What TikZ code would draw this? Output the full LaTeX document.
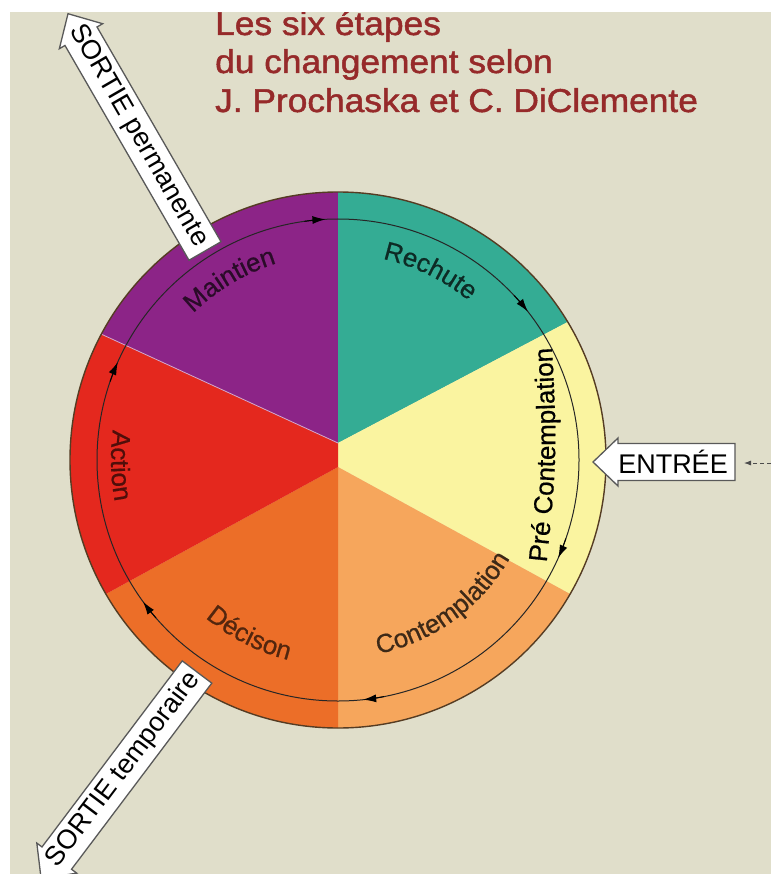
\documentclass[tikz,border=0pt]{standalone}
\usepackage{fontspec}
\setmainfont{Liberation Sans}
\newfontfamily\titlefam[FakeBold=1.4]{Liberation Sans}
\newfontfamily\labelfam[FakeBold=0.6]{Liberation Sans}
\usetikzlibrary{decorations.text,arrows.meta,calc}
\definecolor{bg}{RGB}{224,222,202}
\definecolor{cpurple}{RGB}{140,36,135}
\definecolor{cteal}{RGB}{52,172,148}
\definecolor{cyellow}{RGB}{250,244,160}
\definecolor{clorange}{RGB}{246,166,92}
\definecolor{corange}{RGB}{236,110,40}
\definecolor{cred}{RGB}{228,40,30}
\definecolor{ctitle}{RGB}{150,42,42}
\definecolor{crim}{RGB}{85,60,35}
\newcommand\wheelfont{\labelfam\fontsize{26}{26}\selectfont}
\newcommand\arrowfont{\fontsize{27}{27}\selectfont}
\newcommand\titlefont{\titlefam\fontsize{33}{33}\selectfont}
\tikzset{
  blockarrow/.style={fill=white,draw=black!65,line width=1.3pt,line join=miter},
  ringtip/.style={line width=1pt,-{Latex[length=13pt,width=8pt]}},
  titleline/.style={anchor=base west,text=ctitle,font=\titlefont,inner sep=0pt},
}
\begin{document}
\begin{tikzpicture}[x=1pt,y=1pt]
\useasboundingbox (0,0) rectangle (771,-874);
\clip (0,0) rectangle (771,-874);
\fill[white] (0,0) rectangle (771,-874);
\fill[bg] (10,-12) rectangle (771,-874);

\coordinate (C) at (338,-460);
\coordinate (J1) at (338,-443);
\coordinate (J2) at (338,-467);

% sectors
\fill[cpurple] (J1) -- ($(C)+(90:268)$) arc[start angle=90,end angle=152,radius=268] -- cycle;
\fill[cteal] (J1) -- ($(C)+(31:268)$) arc[start angle=31,end angle=90,radius=268] -- cycle;
\fill[cyellow] (J1) -- ($(C)+(31:268)$) arc[start angle=31,end angle=-30,radius=268] -- (J2) -- cycle;
\fill[clorange] (J2) -- ($(C)+(-30:268)$) arc[start angle=-30,end angle=-90,radius=268] -- cycle;
\fill[corange] (J2) -- ($(C)+(270:268)$) arc[start angle=270,end angle=210,radius=268] -- cycle;
\fill[cred] (J2) -- ($(C)+(210:268)$) arc[start angle=210,end angle=152,radius=268] -- (J1) -- cycle;
\draw[cpurple!40!white,line width=0.8pt] (J1) -- ($(C)+(152:268)$);

% rim and ring
\draw[crim,line width=1.4pt] (C) circle[radius=268];
\draw[black!85,line width=1pt] (C) circle[radius=241];
\foreach \a in {93,38,-24,-84,216,156}{
  \draw[ringtip] ($(C)+(\a+5:241)$) arc[start angle=\a+5,end angle=\a,radius=241];
}

% labels
\path[decorate,decoration={text along path,text align=center,text color=cteal!25!black,
  text={|\wheelfont|Rechute}}]
  ($(C)+(100:206)$) arc[start angle=100,end angle=28,radius=206];
\path[decorate,decoration={text along path,text align=center,text color=cpurple!30!black,
  text={|\wheelfont|Maintien}}]
  ($(C)+(160:206)$) arc[start angle=160,end angle=82,radius=206];
\path[decorate,decoration={text along path,text align=center,text color=cred!35!black,
  text={|\wheelfont|Action}}]
  ($(C)+(150:227)$) arc[start angle=150,end angle=213,radius=227];
\path[decorate,decoration={text along path,text align=center,text color=corange!35!black,
  text={|\wheelfont|Décison}}]
  ($(C)+(210:206)$) arc[start angle=210,end angle=276,radius=206];
\path[decorate,decoration={text along path,text align=center,text color=clorange!25!black,
  text={|\wheelfont|Contemplation}}]
  ($(C)+(-103:198)$) arc[start angle=-103,end angle=-5,radius=198];
\coordinate (pc0) at (543,-597);
\coordinate (pcc) at (558,-455);
\coordinate (pc1) at (550,-313);
\path[decorate,decoration={text along path,text align=center,text color=black,
  text={|\wheelfont|Pré Contemplation}}]
  (pc0) .. controls (pcc) .. (pc1);

% block arrows
\begin{scope}[shift={(205,-251)},rotate=120]
  \draw[blockarrow] (0,-18.5) -- (248,-18.5) -- (248,-25) -- (274,0) -- (248,25) -- (248,18.5) -- (0,18.5) -- cycle;
  \node[font=\arrowfont,rotate=-60,inner sep=0pt] (sp) at (133,0) {SORTIE permanente};
\end{scope}
\begin{scope}[shift={(197,-672)},rotate=233]
  \draw[blockarrow] (0,-18.5) -- (233,-18.5) -- (233,-25) -- (259,0) -- (233,25) -- (233,18.5) -- (0,18.5) -- cycle;
  \node[font=\arrowfont,rotate=53,inner sep=0pt] (st) at (122,0) {SORTIE temporaire};
\end{scope}
\begin{scope}[shift={(735,-462)},rotate=180]
  \draw[blockarrow] (0,-18.5) -- (117,-18.5) -- (117,-24) -- (142,0) -- (117,24) -- (117,18.5) -- (0,18.5) -- cycle;
  \node[font=\arrowfont,inner sep=0pt] (en) at (62,0) {ENTRÉE};
\end{scope}
\coordinate (e0) at (771,-463);
\coordinate (e1) at (744,-463);
\draw[black!70,line width=0.8pt,dash pattern=on 4pt off 3pt,-{Latex[length=7pt,width=5pt]}] (e0) -- (e1);

% title
\node[titleline] (t1) at (215,-35) {\scalebox{1.07}[1]{Les six étapes}};
\node[titleline] (t2) at (215,-73) {\scalebox{1.07}[1]{du changement selon}};
\node[titleline] (t3) at (215,-112) {\scalebox{1.07}[1]{J. Prochaska et C. DiClemente}};

% white border strips
\fill[white] (0,0) rectangle (771,-12);
\fill[white] (0,0) rectangle (10,-874);
\end{tikzpicture}
\end{document}
